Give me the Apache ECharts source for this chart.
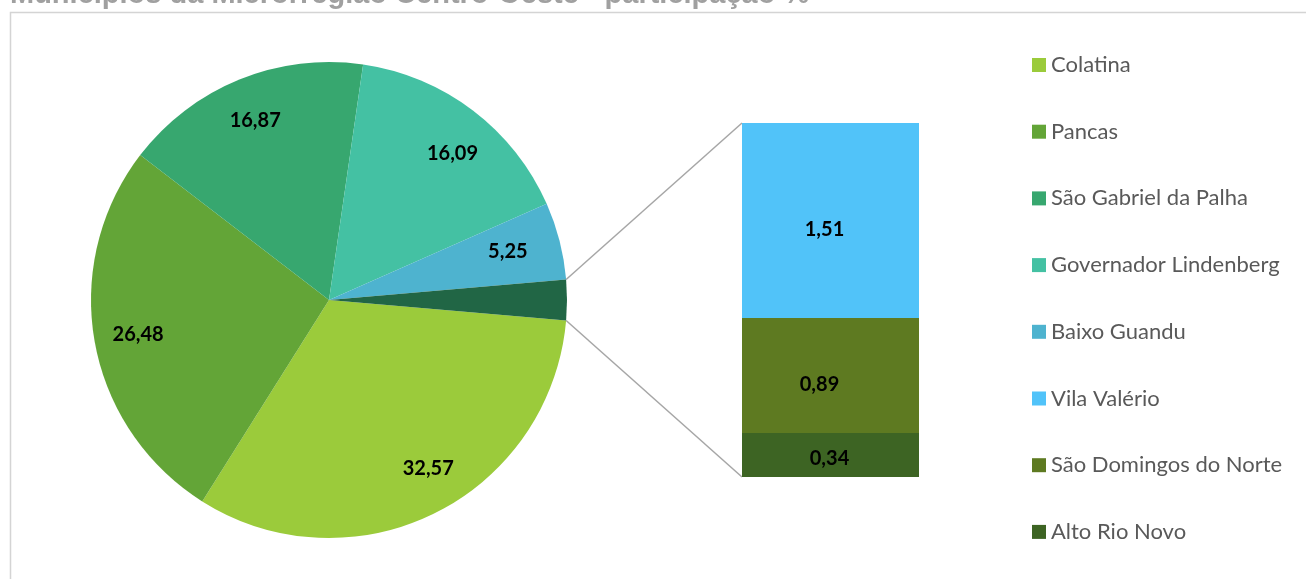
<!DOCTYPE html>
<html>
<head>
<meta charset="utf-8">
<script src="https://cdn.jsdelivr.net/npm/echarts@6/dist/echarts.min.js"></script>
<style>
  html, body { margin: 0; padding: 0; background: #ffffff; }
  #chart { width: 1306px; height: 579px; }
</style>
</head>
<body>
<div id="chart"></div>
<script>
// Participação (%) dos municípios da microrregião Centro-Oeste
const titleText = 'Municípios da Microrregião Centro-Oeste - participação %';

// Fatias principais da pizza
const pieNames  = ['Colatina', 'Pancas', 'São Gabriel da Palha', 'Governador Lindenberg', 'Baixo Guandu'];
const pieValues = [32.57, 26.48, 16.87, 16.09, 5.25];
const pieColors = ['#9bcb3b', '#63a537', '#37a76f', '#44c1a3', '#4eb3cf'];

// Detalhamento da fatia "Outros" (barra empilhada, de baixo para cima)
const barNames  = ['Alto Rio Novo', 'São Domingos do Norte', 'Vila Valério'];
const barValues = [0.34, 0.89, 1.51];
const barColors = ['#3d6423', '#5e7a21', '#51c3f9'];
const otherColor = '#216645';

const legendOrder = ['Colatina', 'Pancas', 'São Gabriel da Palha', 'Governador Lindenberg',
                     'Baixo Guandu', 'Vila Valério', 'São Domingos do Norte', 'Alto Rio Novo'];

const fmt = v => v.toFixed(2).replace('.', ',');

// Layout
const PIE_CX = 329, PIE_CY = 300, PIE_R = 238;
const BAR_LEFT = 742, BAR_TOP = 123, BAR_W = 177, BAR_H = 354;
const LABEL_FONT = 'Lato, "Open Sans", sans-serif';

// small nudges for the slice labels (same order as pieNames)
const pieLabelOffsets = [[12, -7], [2, 0], [0, 2], [5, 10], [-11, 0]];
// small nudges for the bar labels (same order as barNames)
const barLabelOffsets = [[-1, 4], [-11, 9], [-6, 9]];

const otherTotal = barValues.reduce((a, b) => a + b, 0);
const grandTotal = pieValues.reduce((a, b) => a + b, 0) + otherTotal;
const halfOther = otherTotal / grandTotal * 180;           // half-angle of the "Outros" slice
const halfRad = halfOther * Math.PI / 180;

const pieData = pieValues.map((v, i) => ({ name: pieNames[i], value: v, itemStyle: { color: pieColors[i] } }));
pieData.push({ name: 'Outros', value: otherTotal, itemStyle: { color: otherColor } });

const labelData = pieValues.map((v, i) => ({ name: pieNames[i], value: v, label: { offset: pieLabelOffsets[i] } }));
labelData.push({ name: 'Outros', value: otherTotal, label: { show: false } });

// connector lines from the "Outros" slice edge to the bar corners
const edgeX = PIE_CX + PIE_R * Math.cos(halfRad);
const edgeDy = PIE_R * Math.sin(halfRad);

const barSeries = barNames.map((n, i) => ({
  name: n,
  type: 'bar',
  stack: 'outros',
  barWidth: '100%',
  data: [barValues[i]],
  itemStyle: { color: barColors[i] },
  label: {
    show: true,
    position: 'inside',
    offset: barLabelOffsets[i],
    formatter: p => fmt(p.value),
    color: '#000000',
    fontFamily: LABEL_FONT,
    fontWeight: 'bold',
    fontSize: 20
  },
  emphasis: { disabled: true }
}));

const chart = echarts.init(document.getElementById('chart'), null, { renderer: 'canvas' });

chart.setOption({
  animation: false,
  backgroundColor: '#ffffff',
  graphic: [
    {
      type: 'rect', z: -10, silent: true,
      shape: { x: 10.5, y: 12.5, width: 1400, height: 700 },
      style: { fill: 'none', stroke: '#d4d4d4', lineWidth: 1.5 }
    },
    {
      type: 'text', silent: true,
      style: {
        text: titleText, x: 10, y: -20,
        verticalAlign: 'top',
        font: 'bold 29px "Liberation Sans", Arial, sans-serif',
        fill: '#a0a0a0'
      }
    },
    {
      type: 'polyline', silent: true, z: 1,
      shape: { points: [[edgeX, PIE_CY - edgeDy], [BAR_LEFT, BAR_TOP]] },
      style: { stroke: '#a6a6a6', lineWidth: 1.5 }
    },
    {
      type: 'polyline', silent: true, z: 1,
      shape: { points: [[edgeX, PIE_CY + edgeDy], [BAR_LEFT, BAR_TOP + BAR_H]] },
      style: { stroke: '#a6a6a6', lineWidth: 1.5 }
    }
  ],
  legend: {
    orient: 'vertical',
    left: 1032,
    top: 53,
    padding: 0,
    data: legendOrder,
    icon: 'rect',
    itemWidth: 14,
    itemHeight: 14,
    itemGap: 42.7,
    selectedMode: false,
    textStyle: { fontFamily: LABEL_FONT, fontSize: 22, lineHeight: 24, color: '#595959' }
  },
  grid: { left: BAR_LEFT, top: BAR_TOP, width: BAR_W, height: BAR_H },
  xAxis: { type: 'category', data: ['Outros'], show: false },
  yAxis: { type: 'value', min: 0, max: otherTotal, show: false },
  series: [
    {
      name: 'pizza',
      type: 'pie',
      center: [PIE_CX, PIE_CY],
      radius: [0, PIE_R],
      startAngle: -halfOther,
      clockwise: true,
      silent: true,
      data: pieData,
      label: { show: false },
      labelLine: { show: false },
      itemStyle: { borderWidth: 0 }
    },
    {
      name: 'rotulos',
      type: 'pie',
      center: [PIE_CX, PIE_CY],
      radius: [148, PIE_R],
      startAngle: -halfOther,
      clockwise: true,
      silent: true,
      z: 3,
      data: labelData,
      itemStyle: { color: 'rgba(0,0,0,0)', borderWidth: 0 },
      label: {
        show: true,
        position: 'inside',
        formatter: p => fmt(p.value),
        color: '#000000',
        fontFamily: LABEL_FONT,
        fontWeight: 'bold',
        fontSize: 20
      },
      labelLine: { show: false }
    },
    ...barSeries
  ]
});
</script>
</body>
</html>
